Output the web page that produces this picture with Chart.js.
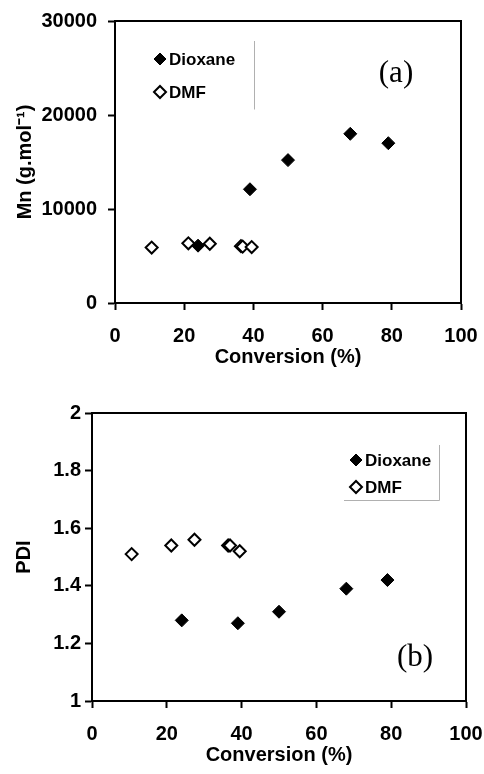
<!DOCTYPE html>
<html>
<head>
<meta charset="utf-8">
<script src="https://cdn.jsdelivr.net/npm/chart.js@4.4.1/dist/chart.umd.min.js"></script>
<style>
  html, body { margin: 0; padding: 0; background: #fff; }
  #wrap { position: relative; width: 484px; height: 774px; }
  .box { position: absolute; left: 0; width: 484px; }
  #boxA { top: 0; height: 372px; }
  #boxB { top: 376px; height: 398px; }
</style>
</head>
<body>
<div id="wrap">
  <div class="box" id="boxA"><canvas id="mnChart"></canvas></div>
  <div class="box" id="boxB"><canvas id="pdiChart"></canvas></div>
</div>
<script>
// valori
const seriesNames = ['Dioxane', 'DMF'];

const dioxaneConv = [24, 39, 50, 68, 79];
const dioxaneMn = [6100, 12100, 15200, 18000, 17000];
const dioxanePdi = [1.28, 1.27, 1.31, 1.39, 1.42];

const dmfConv = [10.6, 21.2, 27.4, 36.4, 36.9, 39.5];
const dmfMn = [5900, 6350, 6300, 6050, 6000, 5950];
const dmfPdi = [1.51, 1.54, 1.56, 1.54, 1.54, 1.52];

const convTicks = [0, 20, 40, 60, 80, 100];
const mnTicks = [0, 10000, 20000, 30000];
const pdiTicks = [1, 1.2, 1.4, 1.6, 1.8, 2];

const panelLabels = ['(a)', '(b)'];

Chart.defaults.font.family = "'Liberation Sans', Arial, sans-serif";
Chart.defaults.color = '#000';

const toPoints = (xs, ys) => xs.map((x, i) => ({ x: x, y: ys[i] }));

// cornice in alto e a destra
const frame = {
    id: 'frame',
    afterDraw(chart) {
        const { ctx, chartArea: a } = chart;
        ctx.save();
        ctx.strokeStyle = '#000';
        ctx.lineWidth = 2;
        ctx.beginPath();
        ctx.moveTo(a.left, a.top);
        ctx.lineTo(a.right, a.top);
        ctx.lineTo(a.right, a.bottom);
        ctx.stroke();
        ctx.restore();
    },
};

// legenda dentro il grafico + etichetta (a)/(b)
const insideLegend = {
    id: 'insideLegend',
    afterDatasetsDraw(chart, args, opts) {
        const { ctx, chartArea: a } = chart;
        ctx.save();
        ctx.strokeStyle = '#b0b0b0';
        ctx.lineWidth = 1;
        const bx0 = a.left + opts.box[0], by0 = a.top + opts.box[1];
        const bx1 = a.left + opts.box[2], by1 = a.top + opts.box[3];
        ctx.beginPath();
        ctx.moveTo(bx1 + 0.5, by0);
        ctx.lineTo(bx1 + 0.5, by1 + 0.5);
        if (opts.bottomLine) ctx.lineTo(bx0, by1 + 0.5);
        ctx.stroke();

        chart.data.datasets.forEach((ds, i) => {
            const mx = a.left + opts.x;
            const my = a.top + opts.y + i * opts.gap;
            ctx.fillStyle = ds.backgroundColor;
            ctx.strokeStyle = ds.borderColor;
            ctx.lineWidth = ds.borderWidth;
            Chart.helpers.drawPoint(ctx, { pointStyle: 'rectRot', radius: 6, rotation: 0, borderWidth: ds.borderWidth }, mx, my);
            ctx.fillStyle = '#000';
            ctx.font = 'bold 17px ' + Chart.defaults.font.family;
            ctx.textBaseline = 'middle';
            ctx.textAlign = 'left';
            ctx.fillText(ds.label, mx + 9, my + 1);
        });

        ctx.font = "31px 'Liberation Serif', 'Times New Roman', serif";
        ctx.textAlign = 'center';
        ctx.textBaseline = 'middle';
        ctx.fillStyle = '#000';
        ctx.fillText(opts.label, a.left + opts.labelPos[0], a.top + opts.labelPos[1]);
        ctx.restore();
    },
};

function makeDatasets(ysDiox, ysDmf) {
    return [
        {
            label: seriesNames[0],
            data: toPoints(dioxaneConv, ysDiox),
            pointStyle: 'rectRot',
            pointRadius: 6.5,
            backgroundColor: '#000',
            borderColor: '#000',
            borderWidth: 1,
        },
        {
            label: seriesNames[1],
            data: toPoints(dmfConv, ysDmf),
            pointStyle: 'rectRot',
            pointRadius: 6,
            backgroundColor: '#fff',
            borderColor: '#000',
            borderWidth: 2,
        },
    ];
}

function axisX(height, tickPad) {
    return {
        type: 'linear',
        min: convTicks[0],
        max: convTicks[convTicks.length - 1],
        afterBuildTicks: (s) => { s.ticks = convTicks.map(v => ({ value: v })); },
        ticks: { padding: tickPad, font: { size: 20, weight: 'bold' } },
        grid: { drawOnChartArea: false, tickLength: 7, tickWidth: 2, tickColor: '#000' },
        border: { color: '#000', width: 2 },
        title: { display: true, text: 'Conversion (%)', font: { size: 20, weight: 'bold' }, padding: 0 },
        afterFit: (s) => { s.height = height; s.paddingLeft = 0; s.paddingRight = 0; },
    };
}

function axisY(ticks, title, width, tickPad, fmt) {
    return {
        type: 'linear',
        min: ticks[0],
        max: ticks[ticks.length - 1],
        afterBuildTicks: (s) => { s.ticks = ticks.map(v => ({ value: v })); },
        ticks: { padding: tickPad, font: { size: 20, weight: 'bold' }, callback: fmt },
        grid: { drawOnChartArea: false, tickLength: 7, tickWidth: 2, tickColor: '#000' },
        border: { color: '#000', width: 2 },
        title: { display: true, text: title, font: { size: 20, weight: 'bold' }, padding: 0 },
        afterFit: (s) => { s.width = width; s.paddingTop = 0; s.paddingBottom = 0; },
    };
}

const mnChart = new Chart(document.getElementById('mnChart'), {
    type: 'scatter',
    data: { datasets: makeDatasets(dioxaneMn, dmfMn) },
    options: {
        responsive: true,
        maintainAspectRatio: false,
        animation: false,
        layout: { padding: { top: 21, right: 23, bottom: 3, left: 13 } },
        plugins: {
            legend: { display: false },
            tooltip: { enabled: false },
            insideLegend: { x: 45, y: 38, gap: 33, box: [16, 20, 139, 88], bottomLine: false, label: panelLabels[0], labelPos: [281, 53] },
        },
        scales: {
            x: axisX(66, 14),
            y: axisY(mnTicks, 'Mn (g.mol⁻¹)', 102, 11, v => String(v)),
        },
    },
    plugins: [frame, insideLegend],
});

const pdiChart = new Chart(document.getElementById('pdiChart'), {
    type: 'scatter',
    data: { datasets: makeDatasets(dioxanePdi, dmfPdi) },
    options: {
        responsive: true,
        maintainAspectRatio: false,
        animation: false,
        layout: { padding: { top: 37, right: 18, bottom: 7, left: 12 } },
        plugins: {
            legend: { display: false },
            tooltip: { enabled: false },
            insideLegend: { x: 264, y: 47, gap: 27, box: [252, 32, 347, 87], bottomLine: true, label: panelLabels[1], labelPos: [323, 245] },
        },
        scales: {
            x: axisX(66, 14),
            y: axisY(pdiTicks, 'PDI', 80, 4, v => String(+v.toFixed(1))),
        },
    },
    plugins: [frame, insideLegend],
});
</script>
</body>
</html>
